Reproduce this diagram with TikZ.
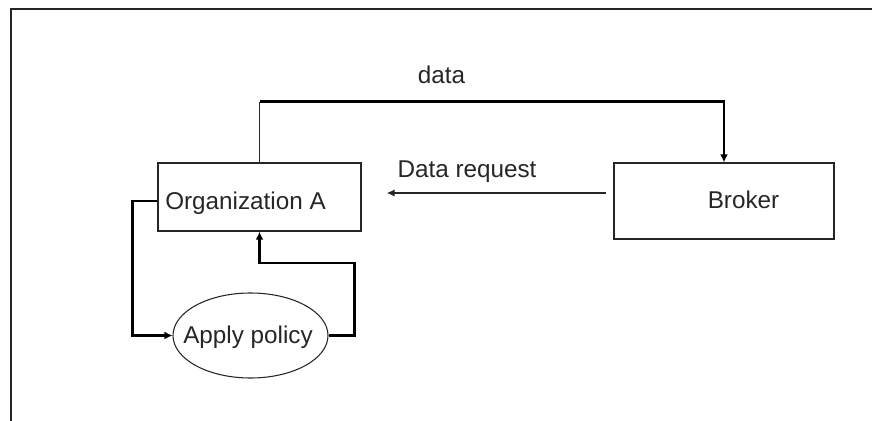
\documentclass[tikz,border=0pt]{standalone}
\usepackage{fontspec}
\setmainfont{Liberation Sans}
\usetikzlibrary{arrows.meta,calc,shapes.geometric}
\tikzset{
  box/.style={draw=black!85, line width=1pt, rectangle, inner sep=0pt},
  oval/.style={draw=black!85, line width=0.8pt, ellipse, inner sep=0pt},
  txt/.style={font=\fontsize{18.2}{21}\selectfont, inner sep=0pt, text=black!85},
  conn/.style={draw=black, line width=2.2pt, -{Latex[length=6pt,width=6pt]}},
  thinconn/.style={draw=black!85, line width=1pt, -{Latex[length=6pt,width=5.5pt]}},
}
\begin{document}
\begin{tikzpicture}[x=0.75pt, y=-0.75pt]
  \useasboundingbox (0,0) rectangle (872,421);
  % page frame (top and left edges)
  \draw[black!85, line width=1.3pt] (11,421) -- (11,9) -- (872,9);

  % boxes
  \node[box, minimum width=203*0.75pt, minimum height=68*0.75pt] (orgA) at (259.5,197) {};
  \node[box, minimum width=220*0.75pt, minimum height=76*0.75pt] (broker) at (724,201) {};
  \node[oval, minimum width=155*0.75pt, minimum height=85*0.75pt] (policy) at (250.5,335.5) {};

  % labels
  \node[txt, anchor=base west] (orgAtext) at (165,209) {Organization A};
  \node[txt, anchor=base] (brokertext) at (743.5,208) {Broker};
  \node[txt, anchor=base] (policytext) at (248,343) {Apply policy};
  \node[txt, anchor=base] (datatext) at (441.5,83) {data};
  \node[txt, anchor=base] (reqtext) at (467,177) {Data request};

  % data flow from Organization A to the broker
  \draw[black!85, line width=1pt] (orgA.north) -- ++(0,-60) coordinate (dataCorner);
  \draw[conn] ([yshift=0.4pt]dataCorner) -| (broker.north);

  % request from the broker
  \draw[thinconn] ($(broker.west)+(-7,-8)$) -- ($(orgA.east)+(25,-4)$);

  % policy loop
  \draw[conn] ($(orgA.west)+(0,4)$) -- ++(-25,0) |- (policy.west);
  \draw[conn] (policy.east) -- ++(25.5,0) -- ++(0,-72.5) -| (orgA.south);
\end{tikzpicture}
\end{document}
